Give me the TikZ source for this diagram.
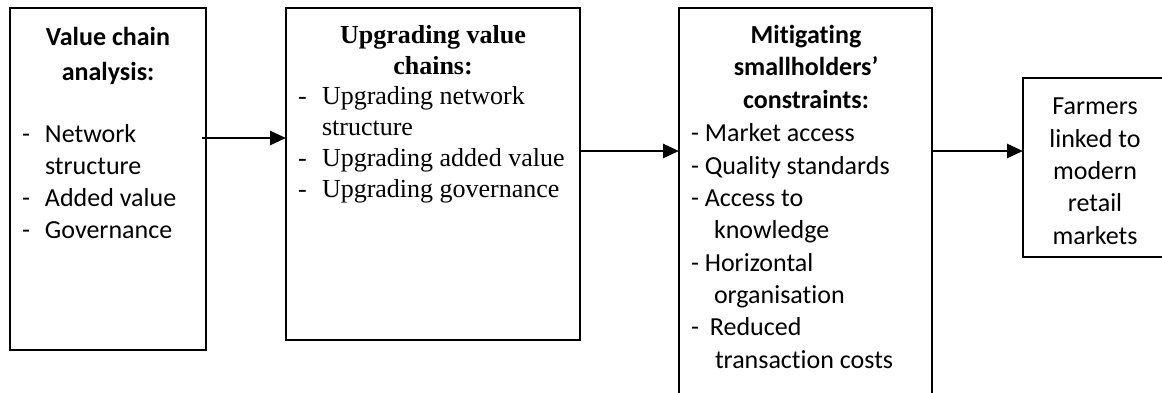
\documentclass[tikz,border=0pt]{standalone}
\usepackage{fontspec}
\setmainfont{Carlito}[Ligatures=NoCommon]
\newfontfamily\timesf{Liberation Serif}[Ligatures=NoCommon]
\usetikzlibrary{arrows.meta}
\tikzset{
  boxnode/.style={draw=black, line width=1.3pt, rectangle, inner sep=0pt, outer sep=0pt},
  txt/.style={inner sep=0pt, outer sep=0pt, font=\fontsize{26}{32.3}\selectfont},
  ttl/.style={txt, align=center, anchor=base, font=\fontsize{26}{32.5}\selectfont\bfseries},
  lst/.style={txt, align=left, anchor=base west},
  flowarrow/.style={line width=2.6pt, -{Triangle[length=16pt,width=14pt]}}
}
\begin{document}
\begin{tikzpicture}[x=1pt,y=1pt]
\useasboundingbox (0,0) rectangle (1162,392);
\clip (0,0) rectangle (1162,392);
% boxes
\node[boxnode, minimum width=196pt, minimum height=342pt] (box1) at (108,213) {};
\node[boxnode, minimum width=294pt, minimum height=332pt] (box2) at (433,218) {};
\node[boxnode, minimum width=253pt, minimum height=394pt] (box3) at (805.5,187) {};
\node[boxnode, minimum width=149pt, minimum height=179pt] (box4) at (1097.5,224.5) {};
% box 1 text (anchor = baseline of last line)
\node[ttl, font=\fontsize{26}{35}\selectfont\bfseries] (t1) at (108,312) {Value chain\\analysis:};
\node[lst, font=\fontsize{26}{32}\selectfont] (l1) at (22,154) {\makebox[23pt][l]{-}Network\\\hspace*{23pt}structure\\\makebox[23pt][l]{-}Added value\\\makebox[23pt][l]{-}Governance};
% box 2 text
\node[ttl, font=\fontsize{26}{31}\selectfont\timesf\bfseries] (t2) at (433,318) {Upgrading value\\chains:};
\node[lst, font=\fontsize{26}{31}\selectfont\timesf] (l2) at (298,195) {\makebox[24pt][l]{-}Upgrading network\\\hspace*{24pt}structure\\\makebox[24pt][l]{-}Upgrading added value\\\makebox[24pt][l]{-}Upgrading governance};
% box 3 text
\node[ttl] (t3) at (806,284) {Mitigating\\smallholders’\\constraints:};
\node[lst] (l3) at (691,24) {- Market access\\- Quality standards\\- Access to\\\hspace*{23pt}knowledge\\- Horizontal\\\hspace*{23pt}organisation\\-\hspace*{11pt}Reduced\\\hspace*{24pt}transaction costs};
% box 4 text
\node[txt, align=center, anchor=base] (t4) at (1095,148) {Farmers\\linked to\\modern\\retail\\markets};
% connectors
\draw[flowarrow] ([xshift=-4pt,yshift=41pt]box1.east) -- ([yshift=36pt]box2.west);
\draw[flowarrow] ([yshift=23pt]box2.east) -- ([yshift=54pt]box3.west);
\draw[flowarrow] ([yshift=54pt]box3.east) -- ([yshift=16.5pt]box4.west);
\end{tikzpicture}
\end{document}
